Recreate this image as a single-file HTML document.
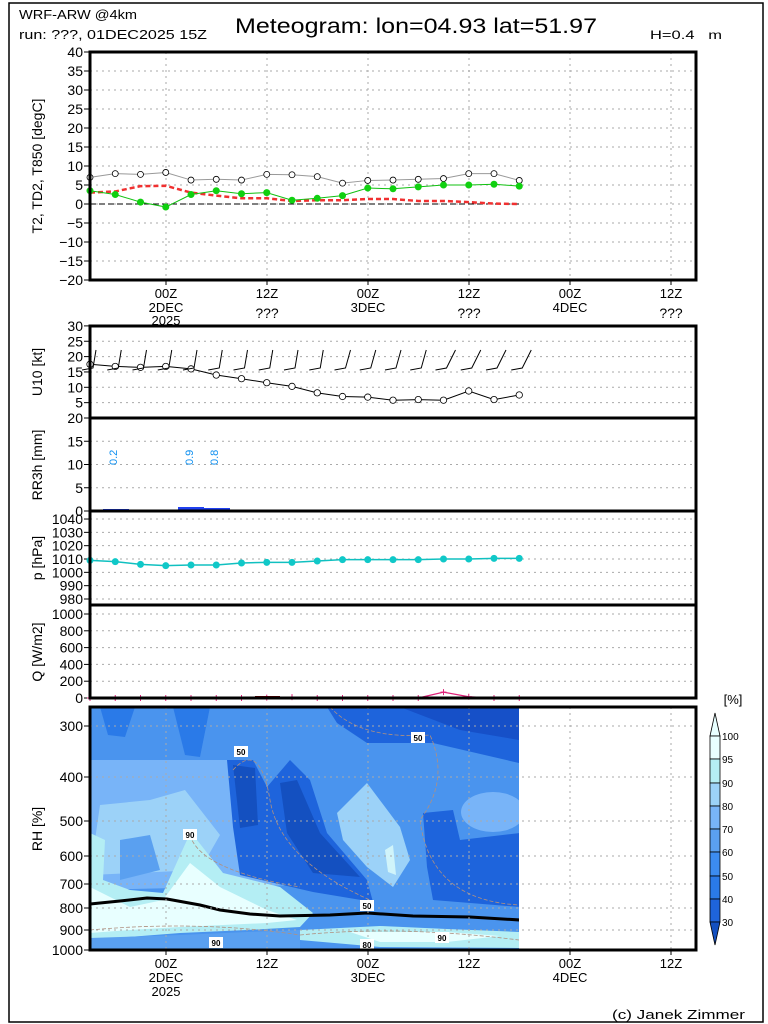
<!DOCTYPE html>
<html><head><meta charset="utf-8"><style>
html,body{margin:0;padding:0;background:#fff;}
svg{display:block;font-family:"Liberation Sans",sans-serif;}
</style></head><body>
<svg id="s" width="768" height="1024" xmlns="http://www.w3.org/2000/svg"></svg>
<script>
var o=[];function A(s){o.push(s);}
var L=90,R=696;
function X(i){return 90+i*25.25;}
A('<rect x="9" y="3" width="754" height="1019" fill="none" stroke="#000" stroke-width="1.5"/>');
A('<text x="19" y="19" font-size="13" textLength="118" lengthAdjust="spacingAndGlyphs">WRF-ARW @4km</text>');
A('<text x="19" y="39" font-size="13" textLength="188" lengthAdjust="spacingAndGlyphs">run: ???, 01DEC2025 15Z</text>');
A('<text x="235" y="33" font-size="21" textLength="362" lengthAdjust="spacingAndGlyphs">Meteogram: lon=04.93 lat=51.97</text>');
A('<text x="650" y="39" font-size="12" textLength="72" lengthAdjust="spacingAndGlyphs">H=0.4&#160;&#160;&#160;m</text>');
var vx=[166,267,368,469,570,671];
function hgrid(ys){ys.forEach(function(y){A('<line x1="90" x2="696" y1="'+y+'" y2="'+y+'" stroke="#aaa" stroke-dasharray="2,4"/>');});}
function vgrid(y1,y2){vx.forEach(function(x){A('<line x1="'+x+'" x2="'+x+'" y1="'+y1+'" y2="'+y2+'" stroke="#aaa" stroke-dasharray="2,4"/>');});}
function lab(y,t){A('<text x="83" y="'+(y+5)+'" font-size="14" text-anchor="end">'+t+'</text>');A('<line x1="84" x2="90" y1="'+y+'" y2="'+y+'" stroke="#000"/>');}
function ylab(y,t){A('<text transform="translate(42,'+y+') rotate(-90)" font-size="14" text-anchor="middle">'+t+'</text>');}
function poly(pts,c,extra){A('<polyline points="'+pts.map(function(p){return p.join(',')}).join(' ')+'" fill="none" stroke="'+c+'" '+(extra||'')+'/>');}
var tY=function(v){return 204-v*3.8;};
for(var v=-20;v<=40;v+=5){if(v!=40&&v!=-20)hgrid([tY(v)]);lab(tY(v),v<0?'\u2212'+(-v):v);}
vgrid(52,280);
A('<line x1="90" x2="519" y1="204" y2="204" stroke="#000" stroke-dasharray="6,3"/>');
var T2=[7,8,7.8,8.3,6.3,6.5,6.3,7.8,7.7,7.2,5.5,6.2,6.3,6.5,6.7,8,8,6.2];
var TD=[3.5,2.5,0.5,-0.8,2.5,3.5,2.7,3,1,1.5,2.2,4.2,4,4.5,5,5,5.2,4.7];
var T8=[3,3.3,4.7,4.8,3,2.2,1.5,1.5,0.8,1,1,1.3,1.3,0.8,0.8,0.5,0.1,0];
poly(T2.map(function(v,i){return[X(i),tY(v)]}),'#999');
T2.forEach(function(v,i){A('<circle cx="'+X(i)+'" cy="'+tY(v)+'" r="3" fill="#fff" stroke="#000" stroke-width="0.8"/>');});
poly(T8.map(function(v,i){return[X(i),tY(v)]}),'#f03030','stroke-width="2.5" stroke-dasharray="5,3"');
poly(TD.map(function(v,i){return[X(i),tY(v)]}),'#10c010');
TD.forEach(function(v,i){A('<circle cx="'+X(i)+'" cy="'+tY(v)+'" r="3.5" fill="#10d010"/>');});
A('<rect x="90" y="52" width="606" height="228" fill="none" stroke="#000" stroke-width="3"/>');
ylab(166,'T2, TD2, T850 [degC]');
function xl(y){[['00Z',166],['12Z',267],['00Z',368],['12Z',469],['00Z',570],['12Z',671]].forEach(function(a){A('<text x="'+a[1]+'" y="'+y+'" font-size="13" text-anchor="middle">'+a[0]+'</text>');A('<line x1="'+a[1]+'" x2="'+a[1]+'" y1="'+(y-18)+'" y2="'+(y-13)+'" stroke="#000"/>');});}
xl(298);
A('<text x="166" y="312" font-size="13" text-anchor="middle">2DEC</text><text x="166" y="325" font-size="13" text-anchor="middle">2025</text>');
A('<text x="368" y="312" font-size="13" text-anchor="middle">3DEC</text><text x="570" y="312" font-size="13" text-anchor="middle">4DEC</text>');
[267,469,671].forEach(function(x){A('<text x="'+x+'" y="318" font-size="14" text-anchor="middle">???</text>');});
var uY=function(v){return 418-v*3.07;};
A('<rect x="90" y="326" width="606" height="10" fill="#fff"/>');
[5,10,15,20,25].forEach(function(v){hgrid([uY(v)]);});
[5,10,15,20,25,30].forEach(function(v){lab(uY(v),v);});
var U=[17.5,16.8,16.5,16.8,16,14,12.8,11.5,10.3,8.2,7,6.8,5.8,6,5.8,8.8,6,7.5];
poly(U.map(function(v,i){return[X(i),uY(v)]}),'#000');
U.forEach(function(v,i){A('<circle cx="'+X(i)+'" cy="'+uY(v)+'" r="3.2" fill="#fff" stroke="#000" stroke-width="0.8"/>');});
for(var i=0;i<18;i++){var x=X(i),tl=i<10?1:(i<14?3:7);A('<polyline points="'+(x+5+tl)+',350 '+(x+3)+',368 '+(x-8)+',370" fill="none" stroke="#000"/>');}
ylab(372,'U10 [kt]');
var rY=function(v){return 511-v*4.65;};
[5,10,15].forEach(function(v){hgrid([rY(v)]);});
[0,5,10,15,20].forEach(function(v){lab(rY(v),v);});
A('<rect x="103" y="509" width="26" height="2" fill="#2040f0"/><rect x="178" y="507" width="26" height="4" fill="#2040f0"/><rect x="204" y="508" width="26" height="3" fill="#2040f0"/>');
[[113,'0.2'],[189,'0.9'],[214,'0.8']].forEach(function(a){A('<text transform="translate('+(a[0]+4)+',465) rotate(-90)" font-size="11" fill="#1090f0">'+a[1]+'</text>');});
ylab(465,'RR3h [mm]');
var pY=function(v){return 599-(v-980)*1.333;};
[980,990,1000,1010,1020,1030,1040].forEach(function(v){hgrid([pY(v)]);lab(pY(v),v);});
var P=[1009,1008,1006,1005,1005.5,1005.5,1007,1007.5,1007.5,1008.5,1009.5,1009.5,1009.5,1009.5,1010,1010,1010.5,1010.5];
poly(P.map(function(v,i){return[X(i),pY(v)]}),'#10c0c0','stroke-width="1.5"');
P.forEach(function(v,i){A('<circle cx="'+X(i)+'" cy="'+pY(v)+'" r="3.5" fill="#10c8c8"/>');});
ylab(558,'p [hPa]');
var qY=function(v){return 698-v*0.084;};
[200,400,600,800,1000].forEach(function(v){hgrid([qY(v)]);});
[0,200,400,600,800,1000].forEach(function(v){lab(qY(v),v);});
var Q=[0,0,0,0,0,0,0,5,10,0,0,0,0,0,70,15,0,0];
poly(Q.map(function(v,i){return[X(i),qY(v)]}),'#e0207a','stroke-width="1.2"');
Q.forEach(function(v,i){var y=qY(v);A('<path d="M'+(X(i)-3)+' '+y+'h6M'+X(i)+' '+(y-3)+'v6" stroke="#e0207a"/>');});
A('<rect x="255" y="696" width="25" height="2" fill="#600"/>');
ylab(652,'Q [W/m2]');
A('<rect x="90" y="326" width="606" height="372" fill="none" stroke="#000" stroke-width="3"/>');
[418,511,605].forEach(function(y){A('<line x1="90" x2="696" y1="'+y+'" y2="'+y+'" stroke="#000" stroke-width="3"/>');});
function pg(p,c){A('<polygon points="'+p+'" fill="'+c+'"/>');}
A('<clipPath id="c"><rect x="90" y="707" width="429" height="243"/></clipPath><g clip-path="url(#c)">');
pg('90,707 519,707 519,950 90,950','#4a94ee');
pg('90,760 240,760 235,840 300,885 90,890','#78b4f8');
pg('100,805 150,800 185,790 220,835 200,870 90,875','#9cd2f8');
pg('120,840 150,835 160,870 120,880','#5aa0f0');
pg('100,707 135,707 125,737 108,735','#2a7ae8');
pg('173,707 210,707 200,757 185,755','#2a7ae8');
pg('327,707 519,707 519,763 433,743 367,743 337,723','#1e64dc');
pg('400,707 519,707 519,740 460,730','#1650c8');
pg('227,760 253,760 267,787 290,760 310,780 327,833 367,880 373,902 313,892 240,875 233,827','#1e64dc');
pg('233,765 255,768 258,825 240,828','#1450c0');
pg('280,783 297,780 320,833 360,877 313,873 287,833','#1450c0');
pg('337,813 367,783 400,827 410,860 393,887 367,867 343,840','#9cd2f8');
pg('385,850 393,845 396,875 388,872','#d0f4fa');
pg('423,813 453,810 460,840 520,833 520,907 433,900 427,867','#1e64dc');
A('<ellipse cx="493" cy="812" rx="32" ry="20" fill="#78b4f8"/>');
pg('90,833 105,840 103,880 130,890 163,893 187,840 197,840 223,873 280,887 313,913 300,927 247,930 180,933 90,940','#b4eef4');
pg('90,887 130,907 163,900 190,863 220,887 267,910 297,920 267,923 180,927 130,930 90,933','#e8ffff');
pg('90,938 180,935 247,932 300,930 300,950 90,950','#5aa0f0');
pg('300,930 380,926 447,929 520,932 520,948 380,947 300,940','#b4eef4');
pg('350,932 447,932 500,936 447,942 380,942','#e8ffff');
A('<polyline points="90,904 120,901 147,898 167,899 200,905 220,910 250,914 280,916 330,915 367,913 413,916 470,917 520,920" fill="none" stroke="#000" stroke-width="3"/>');
A('<path d="M233 770 Q260 740 270 800 T370 900 M330 707 Q360 740 430 735 Q450 780 420 820 Q430 900 519 905 M190 835 Q200 870 300 887 M90 930 Q200 920 300 935 M300 935 Q400 925 519 940" fill="none" stroke="#b09080" stroke-dasharray="4,2" stroke-width="0.8"/>');
A('</g>');
vgrid(707,950);
[[726,'300'],[777,'400'],[821,'500'],[856,'600'],[884,'700'],[908,'800'],[930,'900']].forEach(function(a){A('<line x1="90" x2="696" y1="'+a[0]+'" y2="'+a[0]+'" stroke="#aaa" stroke-dasharray="2,4"/>');lab(a[0],a[1]);});
lab(950,'1000');
[[241,752,'50'],[418,738,'50'],[190,835,'90'],[367,906,'50'],[216,943,'90'],[367,945,'80'],[442,938,'90']].forEach(function(a){A('<rect x="'+(a[0]-7)+'" y="'+(a[1]-6)+'" width="14" height="11" fill="#fff"/><text x="'+a[0]+'" y="'+(a[1]+3)+'" font-size="8" text-anchor="middle" font-weight="bold">'+a[2]+'</text>');});
A('<rect x="90" y="707" width="606" height="243" fill="none" stroke="#000" stroke-width="3"/>');
ylab(829,'RH [%]');
xl(968);
A('<text x="166" y="982" font-size="13" text-anchor="middle">2DEC</text><text x="166" y="996" font-size="13" text-anchor="middle">2025</text>');
A('<text x="368" y="982" font-size="13" text-anchor="middle">3DEC</text><text x="570" y="982" font-size="13" text-anchor="middle">4DEC</text>');
A('<text x="733" y="704" font-size="13" text-anchor="middle">[%]</text>');
var cb=[[713,736,'#e8ffff'],[736,759,'#e8ffff'],[759,783,'#b4eef4'],[783,806,'#9cd2f8'],[806,829,'#78b4f8'],[829,852,'#5aa0f0'],[852,876,'#3c8cf0'],[876,899,'#2a7ae8'],[899,922,'#1e64dc']];
A('<polygon points="715,713 710,736 720,736" fill="#e8ffff" stroke="#000" stroke-width="0.8"/>');
for(var k=1;k<cb.length;k++)A('<rect x="710" y="'+cb[k][0]+'" width="10" height="'+(cb[k][1]-cb[k][0])+'" fill="'+cb[k][2]+'" stroke="#000" stroke-width="0.8"/>');
A('<polygon points="710,922 720,922 715,945" fill="#1450c0" stroke="#000" stroke-width="0.8"/>');
[[736,'100'],[759,'95'],[783,'90'],[806,'80'],[829,'70'],[852,'60'],[876,'50'],[899,'40'],[922,'30']].forEach(function(a){A('<text x="722" y="'+(a[0]+4)+'" font-size="10">'+a[1]+'</text>');});
A('<text x="612" y="1019" font-size="13" textLength="133" lengthAdjust="spacingAndGlyphs">(c) Janek Zimmer</text>');
document.getElementById('s').innerHTML=o.join('');
</script>
</body></html>
